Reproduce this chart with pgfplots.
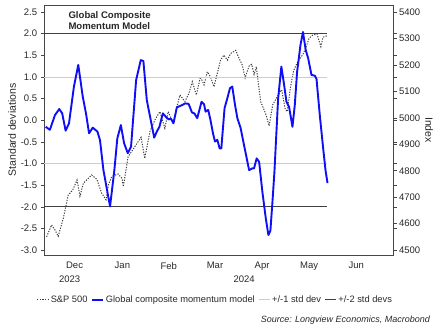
\documentclass[border=0pt]{standalone}
\usepackage{pgfplots}
\pgfplotsset{compat=1.18}
\usepackage{fontspec}
\setmainfont{Liberation Sans}
\definecolor{mblue}{RGB}{15,15,245}
\definecolor{spgray}{RGB}{60,60,60}
\definecolor{lgray}{RGB}{205,205,205}
\definecolor{dgray}{RGB}{64,64,64}
\definecolor{txt}{RGB}{40,40,40}
\definecolor{axc}{RGB}{70,70,70}

\pgfplotstableread{
d v
-3.2 -0.15
-0.5 -0.22
2.8 0.12
5.6 0.26
7.5 0.16
9.7 -0.24
11.9 -0.07
15.1 0.78
17.9 1.28
20.8 0.55
22.9 0.16
24.9 -0.30
27.3 -0.17
30.3 -0.26
32.0 -0.46
34.2 -1.15
38.5 -1.99
41.3 -1.15
43.2 -0.42
45.5 -0.11
47.6 -0.53
50.0 -0.76
52.1 -0.61
55.4 0.93
58.4 1.39
60.1 1.37
62.3 0.47
67.1 -0.40
68.8 -0.26
70.5 -0.15
72.7 0.16
74.7 0.08
76.4 0.02
77.9 0.04
79.6 -0.07
81.8 0.30
85.1 0.35
87.2 0.39
89.4 0.38
91.6 0.18
93.1 0.16
95.0 0.05
97.8 0.43
99.4 0.37
100.4 0.20
102.1 0.24
103.6 0.00
105.2 -0.30
106.5 -0.49
108.0 -0.45
109.5 -0.65
110.6 -0.65
112.7 0.28
114.5 0.51
116.2 0.74
117.7 0.78
119.5 0.35
121.0 0.05
123.1 -0.18
125.3 -0.57
128.6 -1.15
130.7 -1.11
131.8 -1.11
133.5 -0.88
135.1 -0.96
137.2 -1.65
139.4 -2.26
141.1 -2.65
142.4 -2.55
143.7 -1.90
145.0 -1.20
147.4 0.50
149.5 1.24
151.0 0.89
152.8 0.43
154.5 0.31
156.7 -0.15
158.2 0.35
159.7 1.12
161.9 1.74
163.5 2.04
165.3 1.62
166.9 1.43
169.0 1.05
171.2 1.03
172.3 0.95
174.4 0.12
176.6 -0.65
178.1 -1.15
179.4 -1.45
}\momentum

\pgfplotstableread{
d s
-2.6 4550
0.6 4595
2.8 4576
4.9 4552
8.2 4620
11.4 4708
14.3 4727
17.1 4765
19.0 4704
21.2 4753
26.6 4784
29.9 4768
33.1 4715
35.9 4690
37.4 4746
39.6 4778
43.7 4788
46.3 4771
47.1 4740
50.2 4853
54.5 4891
58.6 4927
61.0 4847
64.3 4948
67.5 4992
70.8 5024
74.0 4961
76.2 5024
79.4 4980
81.6 5037
83.8 5087
87.0 5062
89.6 5093
91.8 5137
94.4 5087
97.1 5156
99.4 5125
101.5 5175
103.6 5156
105.8 5118
108.0 5169
110.1 5219
112.3 5238
114.5 5219
116.6 5244
119.9 5256
122.1 5226
124.2 5200
126.0 5152
128.6 5197
130.3 5203
131.8 5165
133.3 5194
134.6 5131
136.1 5062
139.4 5015
141.6 4970
143.9 5050
147.2 5084
149.7 5107
152.0 5033
153.3 5024
155.5 5120
157.5 5180
160.1 5213
163.4 5240
165.6 5270
167.5 5302
169.7 5313
172.6 5318
175.1 5270
176.5 5306
179.4 5312
}\spx

\begin{document}
\fontsize{9.5}{11}\selectfont
\color{txt}
\begin{tikzpicture}[x=1pt,y=1pt]
\useasboundingbox (0,0) rectangle (444,335);
\pgfplotsset{
  common/.style={
    at={(44pt,80pt)}, anchor=south west,
    scale only axis, width=349.7pt, height=249.7pt,
    xmin=-4.3, xmax=222.3,
    /pgf/number format/assume math mode=true,
    tick align=outside,
    major tick length=3pt,
    axis line style={axc, line width=0.7pt},
    every tick/.style={axc, line width=0.6pt},
    tick label style={txt, font=\fontsize{9.5}{11}\selectfont},
  }
}
% right axis: S&P 500 index
\begin{axis}[common,
  axis x line=none,
  axis y line*=right,
  ymin=4481.1, ymax=5426.5,
  ytick={4500,4600,...,5400},
  yticklabel style={/pgf/number format/1000 sep={}, xshift=-1pt},
]
\addplot[spgray, line width=1pt, dash pattern=on 1.2pt off 1.4pt] table[x=d,y=s] {\spx};
\end{axis}
% left axis: standard deviations
\begin{axis}[common,
  ymin=-3.111, ymax=2.656,
  ytick={-3,-2.5,...,2.5},
  yticklabel style={/pgf/number format/fixed, /pgf/number format/fixed zerofill, /pgf/number format/precision=1, xshift=-0.5pt},
  xtick={15.5,46.5,76.5,106.5,137,167.5,198},
  xticklabels={Dec,Jan,Feb,Mar,Apr,May,Jun},
  xtick style={draw=none},
  minor xtick={0,31,62,91,122,152,183,213},
  minor tick length=3pt,
  xticklabel style={yshift=-1pt},
  legend columns=4,
  legend style={at={(0.49,-0.180)}, anchor=center, draw=none, fill=none,
    /tikz/every even column/.append style={column sep=1.5pt},
    cells={anchor=west, inner sep=1pt}, font=\fontsize{9.3}{11}\selectfont},
  legend image code/.code={\draw[#1] (0pt,0pt) -- (11pt,0pt);},
]
\addlegendimage{spgray, line width=1pt, dash pattern=on 1.2pt off 1.4pt}
\addlegendentry{S\&P 500}
\addplot[lgray, line width=0.9pt, forget plot] coordinates {(-4.3,1) (179.4,1)};
\addplot[lgray, line width=0.9pt, forget plot] coordinates {(-4.3,-1) (179.4,-1)};
\addplot[dgray, line width=0.9pt, forget plot] coordinates {(-4.3,2) (179.4,2)};
\addplot[dgray, line width=0.9pt, forget plot] coordinates {(-4.3,-2) (179.4,-2)};
\addplot[mblue, line width=1.9pt, line join=round] table[x=d,y=v] {\momentum};
\addlegendentry{Global composite momentum model}
\addlegendimage{lgray, line width=0.9pt}
\addlegendentry{+/-1 std dev}
\addlegendimage{dgray, line width=0.9pt}
\addlegendentry{+/-2 std devs}
\end{axis}
% texts
\node[anchor=base west, font=\fontsize{9.6}{11}\selectfont\bfseries, inner sep=0] at (68.3,316) {Global Composite};
\node[anchor=base west, font=\fontsize{9.6}{11}\selectfont\bfseries, inner sep=0] at (68.3,305.7) {Momentum Model};
\node[rotate=90, inner sep=0, font=\fontsize{10.5}{12}\selectfont] at (12,205) {Standard deviations};
\node[rotate=-90, inner sep=0, font=\fontsize{10.5}{12}\selectfont] at (429,205) {Index};
\node[inner sep=0] at (69.7,56) {2023};
\node[inner sep=0] at (244.2,56) {2024};
\node[anchor=east, inner sep=0, font=\fontsize{9}{11}\selectfont\itshape] at (430,15) {Source: Longview Economics, Macrobond};
\end{tikzpicture}
\end{document}
